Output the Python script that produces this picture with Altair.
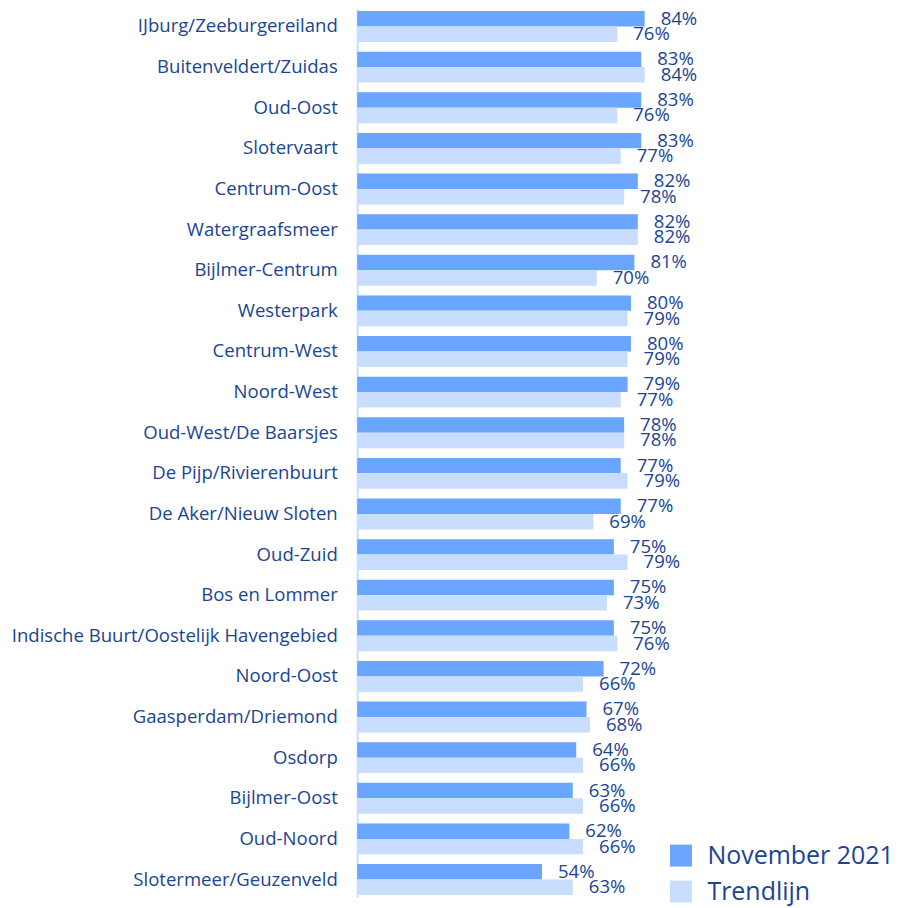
import altair as alt
import pandas as pd

categories = [
    "IJburg/Zeeburgereiland", "Buitenveldert/Zuidas", "Oud-Oost", "Slotervaart",
    "Centrum-Oost", "Watergraafsmeer", "Bijlmer-Centrum", "Westerpark",
    "Centrum-West", "Noord-West", "Oud-West/De Baarsjes", "De Pijp/Rivierenbuurt",
    "De Aker/Nieuw Sloten", "Oud-Zuid", "Bos en Lommer",
    "Indische Buurt/Oostelijk Havengebied", "Noord-Oost", "Gaasperdam/Driemond",
    "Osdorp", "Bijlmer-Oost", "Oud-Noord", "Slotermeer/Geuzenveld",
]
november_2021 = [84, 83, 83, 83, 82, 82, 81, 80, 80, 79, 78, 77, 77, 75, 75, 75, 72, 67, 64, 63, 62, 54]
trendlijn = [76, 84, 76, 77, 78, 82, 70, 79, 79, 77, 78, 79, 69, 79, 73, 76, 66, 68, 66, 66, 66, 63]
series = ["November 2021", "Trendlijn"]
colors = ["#6AA6FF", "#C9DDFF"]

rows = []
for c, n, t in zip(categories, november_2021, trendlijn):
    rows.append({"wijk": c, "serie": series[0], "waarde": n})
    rows.append({"wijk": c, "serie": series[1], "waarde": t})
df = pd.DataFrame(rows)

TXT = "#1B4593"
FONT = "Open Sans"

y_enc = alt.Y("wijk:N", sort=categories, title=None,
              scale=alt.Scale(paddingInner=0.24, paddingOuter=0.05),
              axis=alt.Axis(ticks=False, labelPadding=20, labelFontSize=18.6,
                            labelColor=TXT, labelFont=FONT, domainColor="#C9DDFF",
                            domainWidth=2, minExtent=350, maxExtent=350, labelLimit=400))
x_enc = alt.X("waarde:Q", scale=alt.Scale(domain=[0, 100]), axis=None, title=None)
yoff = alt.YOffset("serie:N", sort=series)

base = alt.Chart(df).encode(y=y_enc, x=x_enc, yOffset=yoff)

bars = base.mark_bar().encode(
    color=alt.Color("serie:N", sort=series,
                    scale=alt.Scale(domain=series, range=colors),
                    legend=alt.Legend(title=None, orient="none", legendX=312, legendY=836,
                                      symbolType="square", symbolSize=484,
                                      symbolStrokeWidth=0, labelFontSize=25,
                                      labelFont=FONT, labelColor=TXT, rowPadding=10,
                                      labelOffset=14, labelLimit=300))
)

labels = base.transform_calculate(
    lbl="datum.waarde + '%'"
).mark_text(align="left", baseline="middle", dx=16, fontSize=18.6, font=FONT, color=TXT).encode(
    text="lbl:N"
)

chart = (bars + labels).properties(width=343, height=890, padding=0).configure_view(stroke=None)

chart.save("out.html", embed_options={"renderer": "svg", "actions": False})
